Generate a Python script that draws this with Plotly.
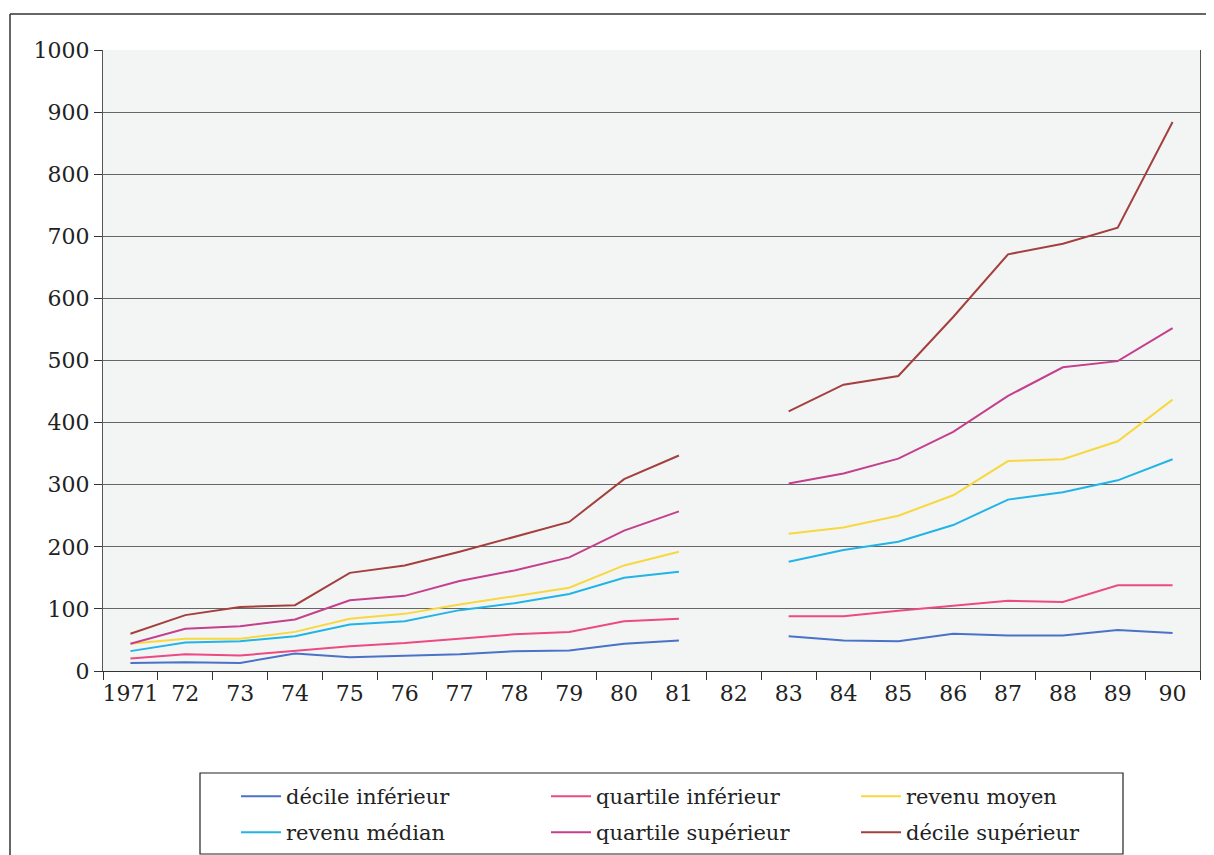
import plotly.graph_objects as go

years = ["1971", "72", "73", "74", "75", "76", "77", "78", "79", "80",
         "81", "82", "83", "84", "85", "86", "87", "88", "89", "90"]

decile_inf = [13, 14, 13, 28, 22, 25, 27, 32, 33, 44, 49,
              None, 56, 49, 48, 60, 57, 57, 66, 61]
quartile_inf = [20, 27, 25, 32, 40, 45, 52, 59, 63, 80, 84,
                None, 88, 88, 97, 105, 113, 111, 138, 138]
revenu_moyen = [44, 52, 52, 63, 84, 92, 107, 121, 134, 170, 192,
                None, 221, 231, 250, 283, 338, 341, 370, 437]
revenu_median = [32, 46, 48, 56, 75, 80, 98, 109, 124, 150, 160,
                 None, 176, 195, 208, 235, 276, 288, 307, 341]
quartile_sup = [44, 68, 72, 83, 114, 121, 145, 162, 183, 226, 257,
                None, 302, 318, 342, 385, 443, 489, 499, 552]
decile_sup = [60, 90, 103, 106, 158, 170, 192, 216, 240, 309, 347,
              None, 418, 461, 475, 570, 671, 688, 714, 884]

series = [
    ("décile inférieur", decile_inf, "#4a72c8", "legend"),
    ("quartile inférieur", quartile_inf, "#ec4a82", "legend"),
    ("revenu moyen", revenu_moyen, "#f7d83e", "legend"),
    ("revenu médian", revenu_median, "#22b4e6", "legend2"),
    ("quartile supérieur", quartile_sup, "#c4408e", "legend2"),
    ("décile supérieur", decile_sup, "#a3403e", "legend2"),
]

SERIF = "DejaVu Serif"

fig = go.Figure()
for name, vals, col, lg in series:
    fig.add_trace(go.Scatter(
        x=years, y=vals, name=name, mode="lines", legend=lg,
        line=dict(color=col, width=2), connectgaps=False,
    ))

OFF = 8  # page body margin
W, H = 1214 - OFF, 855 - OFF
L, T = 103 - OFF, 50 - OFF
PB = 671 - OFF          # plot bottom in figure px
PR = 1200 - OFF         # plot right in figure px
R, B = W - PR, H - PB
pw, ph = PR - L, PB - T


def px(x):
    return (x - OFF - L) / pw


def py(y):
    return (PB - (y - OFF)) / ph


def legend_row(top):
    return dict(
        orientation="h",
        xref="container", yref="container",
        x=(236 - OFF) / W, xanchor="left",
        y=1 - (top - OFF) / H, yanchor="top",
        bgcolor="rgba(0,0,0,0)", borderwidth=0,
        font=dict(family=SERIF, size=21, color="#222"),
        itemwidth=40,
        entrywidth=255, entrywidthmode="pixels",
        tracegroupgap=0,
    )


fig.update_layout(
    width=W, height=H,
    margin=dict(l=L, r=R, t=T, b=B, pad=0, autoexpand=False),
    paper_bgcolor="white",
    plot_bgcolor="#f3f5f5",
    font=dict(family=SERIF, size=22, color="#222"),
    showlegend=True,
    legend=legend_row(776),
    legend2=legend_row(812),
    xaxis=dict(
        type="category", categoryorder="array", categoryarray=years,
        range=[-0.5, len(years) - 0.5],
        showgrid=False, showline=True, linecolor="#333", linewidth=1,
        ticks="outside", tickson="boundaries", ticklen=8, tickcolor="#333",
        tickangle=0, ticklabelstandoff=3,
        tickfont=dict(family=SERIF, size=22, color="#222"),
        fixedrange=True,
    ),
    yaxis=dict(
        range=[0, 1000], dtick=100, tick0=0,
        showgrid=True, gridcolor="#666", gridwidth=1,
        showline=True, linecolor="#555", linewidth=1, mirror=True,
        ticks="outside", ticklen=8, tickcolor="#333",
        tickfont=dict(family=SERIF, size=22, color="#222"),
        zeroline=False, fixedrange=True,
    ),
    shapes=[
        # outer frame
        dict(type="line", xref="paper", yref="paper",
             x0=px(10), x1=px(1214), y0=py(14), y1=py(14),
             line=dict(color="#333", width=1.5)),
        dict(type="line", xref="paper", yref="paper",
             x0=px(10), x1=px(10), y0=py(14), y1=py(855),
             line=dict(color="#333", width=1.5)),
        # legend box
        dict(type="rect", xref="paper", yref="paper",
             x0=px(200), x1=px(1123), y0=py(773), y1=py(854),
             line=dict(color="#222", width=1.2), fillcolor="white",
             layer="below"),
    ],
)

fig.write_html("out.html")
